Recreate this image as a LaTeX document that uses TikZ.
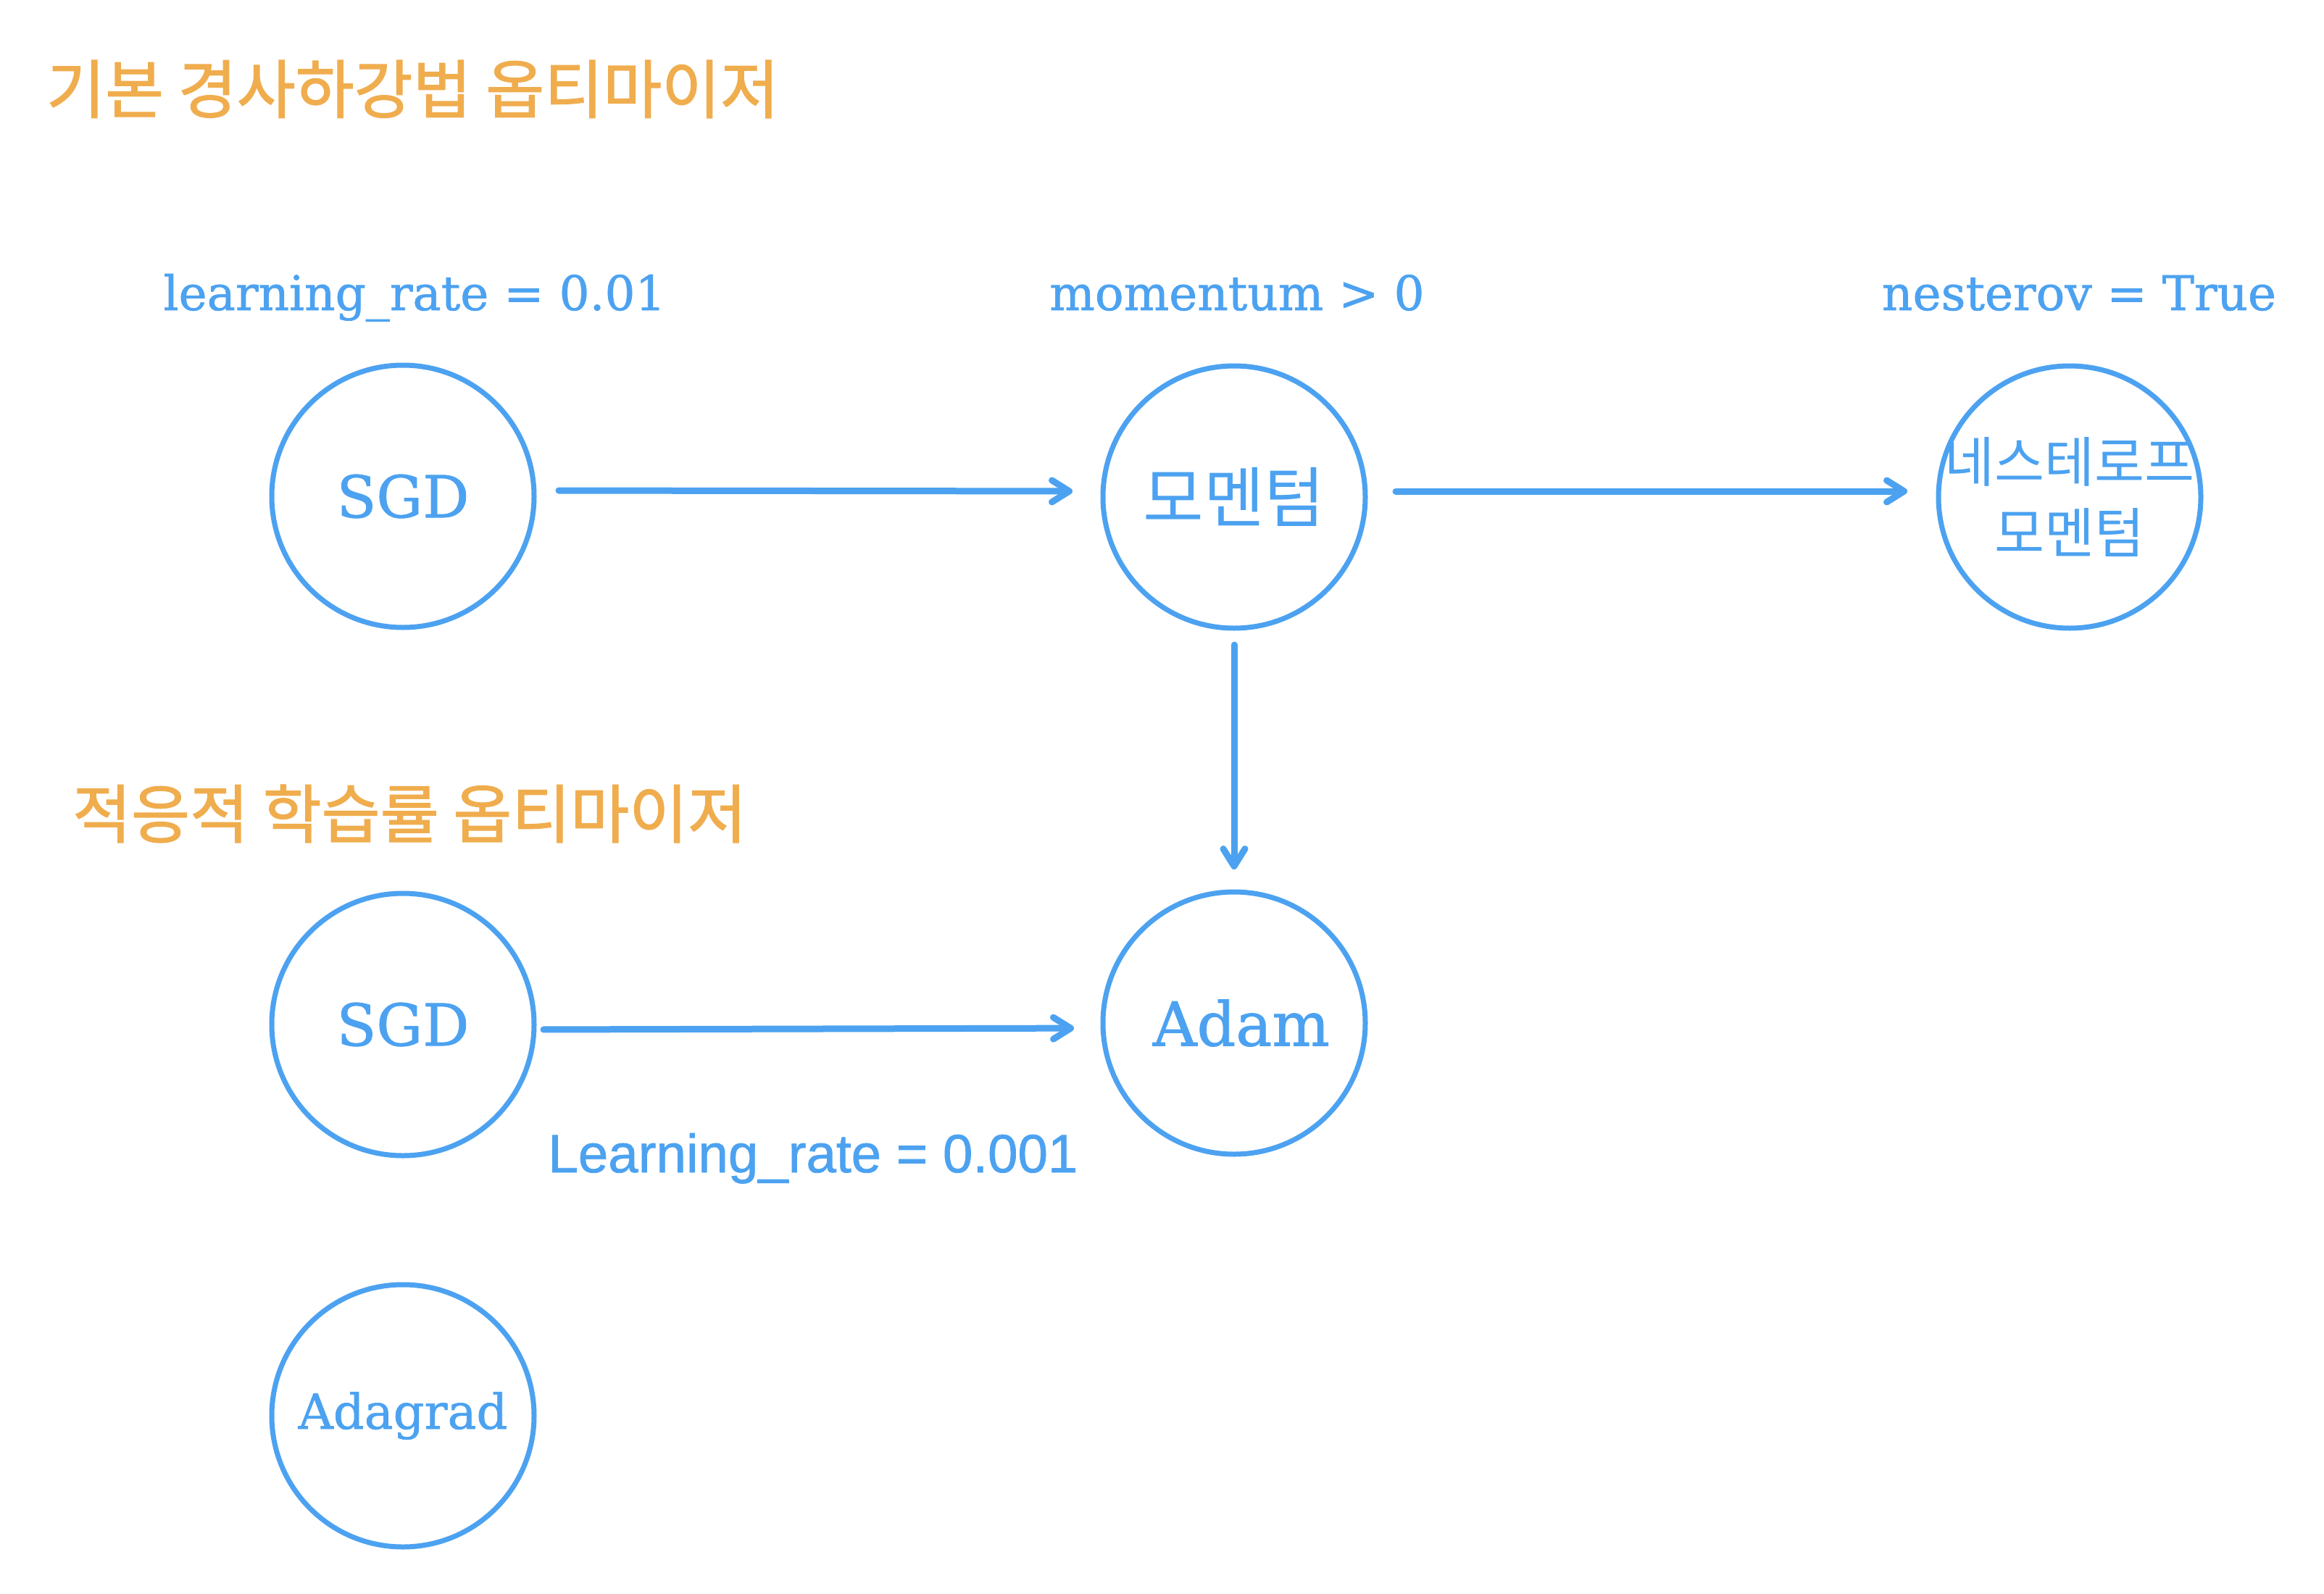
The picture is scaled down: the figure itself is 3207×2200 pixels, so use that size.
\documentclass[tikz,border=0pt]{standalone}
\usepackage{fontspec}
\usetikzlibrary{arrows.meta}
\newfontfamily\krfont{Noto Sans CJK KR}
\newfontfamily\krtitle{Noto Sans CJK KR}[FakeBold=1.5]
\newfontfamily\serfont{DejaVu Serif}[FakeBold=1]
\newfontfamily\sanfont{Liberation Sans}[FakeBold=1]
\definecolor{ablue}{HTML}{4CA2F0}
\definecolor{aorange}{HTML}{F0AD4E}
\tikzset{
  opt/.style={circle, draw=ablue, line width=7pt, minimum size=362pt, inner sep=0pt, outer sep=0pt, text=ablue, align=center},
  conn/.style={draw=ablue, line width=9pt, line cap=round, -{Straight Barb[length=24pt,width=30pt,round]}},
  ttl/.style={anchor=west, inner sep=0pt, text=aorange, font=\krtitle\fontsize{88}{100}\selectfont},
  prm/.style={anchor=base, inner sep=0pt, text=ablue, font=\serfont\fontsize{66}{80}\selectfont},
}
\begin{document}
\begin{tikzpicture}[x=1pt,y=-1pt]
\fill[white] (0,0) rectangle (3207,2200);
\useasboundingbox (0,0) rectangle (3207,2200);

\node[ttl] (t1) at (64,123) {기본 경사하강법 옵티마이저};
\node[ttl] (t2) at (100,1123) {적응적 학습률 옵티마이저};

\node[prm] (p1) at (572,428) {learning\_rate = 0.01};
\node[prm] (p2) at (1707,428) {momentum > 0};
\node[prm] (p3) at (2869,428) {nesterov = True};
\node[anchor=base, inner sep=0pt, text=ablue, font=\sanfont\fontsize{74.5}{86}\selectfont] (p4) at (1122,1618) {Learning\_rate = 0.001};

\node[opt, font=\serfont\fontsize{80}{90}\selectfont] (sgd1) at (556,685) {SGD};
\node[opt, font=\krfont\fontsize{91}{100}\selectfont] (mom) at (1703,686) {모멘텀};
\node[opt, inner sep=-40pt, font=\krfont\fontsize{75}{98}\selectfont] (nes) at (2856,686) {네스테로프\\모멘텀};
\node[opt, font=\serfont\fontsize{80}{90}\selectfont] (sgd2) at (556,1414) {SGD};
\node[opt, font=\serfont\fontsize{84}{96}\selectfont] (adam) at (1703,1412) {\hspace*{20pt}Adam};
\node[opt, font=\serfont\fontsize{67}{80}\selectfont] (adag) at (556,1954) {Adagrad};

\draw[conn, shorten <=34pt, shorten >=42pt] ([yshift=8pt]sgd1.east) -- ([yshift=8pt]mom.west);
\draw[conn, shorten <=42pt, shorten >=43pt] ([yshift=8pt]mom.east) -- ([yshift=8pt]nes.west);
\draw[conn, shorten <=23pt, shorten >=31pt] (mom.south) -- (adam.north);
\draw[conn, shorten <=13pt, shorten >=40pt] ([yshift=-7pt]sgd2.east) -- ([yshift=-7pt]adam.west);
\end{tikzpicture}
\end{document}
